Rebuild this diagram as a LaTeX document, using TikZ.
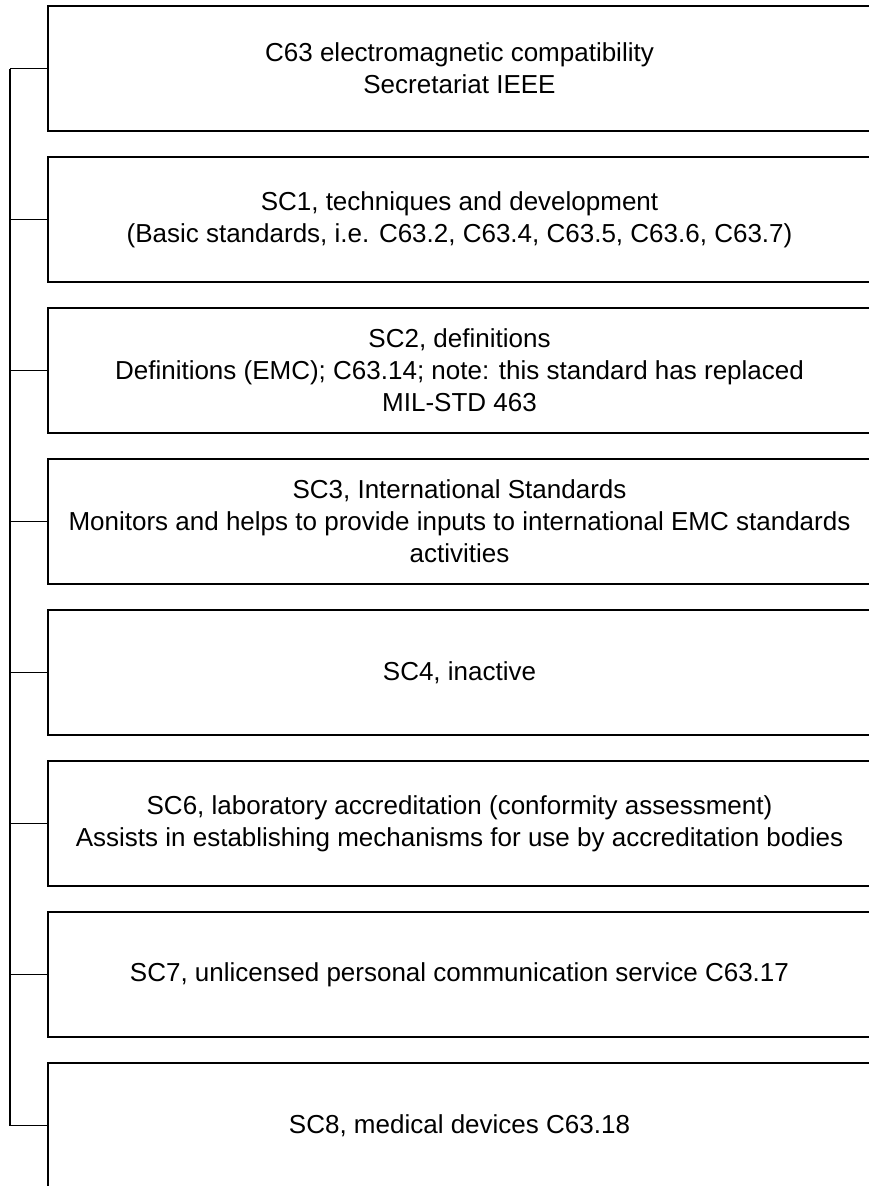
\documentclass[tikz,border=0pt]{standalone}
\usepackage{fontspec}
\setmainfont{Liberation Sans}
\begin{document}
\begin{tikzpicture}[x=1pt,y=-1pt,
  box/.style={draw, line width=2.4pt, minimum width=823pt, minimum height=125pt,
    inner sep=0pt, align=center, font=\fontsize{26}{32}\selectfont},
  link/.style={draw, line width=1.1pt}]
\useasboundingbox (0,0) rectangle (869,1186);
\node[box] (b1) at (459.5,68.5) {C63 electromagnetic compatibility\\Secretariat IEEE};
\node[box] (b2) at (459.5,219.5) {SC1, techniques and development\\(Basic standards, i.e. C63.2, C63.4, C63.5, C63.6, C63.7)};
\node[box] (b3) at (459.5,370.5) {SC2, definitions\\Definitions (EMC); C63.14; note: this standard has replaced\\MIL-STD 463};
\node[box] (b4) at (459.5,521.5) {SC3, International Standards\\Monitors and helps to provide inputs to international EMC standards\\activities};
\node[box] (b5) at (459.5,672.5) {SC4, inactive};
\node[box] (b6) at (459.5,823.5) {SC6, laboratory accreditation (conformity assessment)\\Assists in establishing mechanisms for use by accreditation bodies};
\node[box] (b7) at (459.5,974.5) {SC7, unlicensed personal communication service C63.17};
\node[box] (b8) at (459.5,1125.5) {SC8, medical devices C63.18};
\coordinate (s) at (10,0);
\draw[link] (b1.west -| s) -- (b8.west -| s);
\foreach \i in {1,...,8} {\draw[link] (b\i.west) -- (b\i.west -| s);}
\end{tikzpicture}
\end{document}
